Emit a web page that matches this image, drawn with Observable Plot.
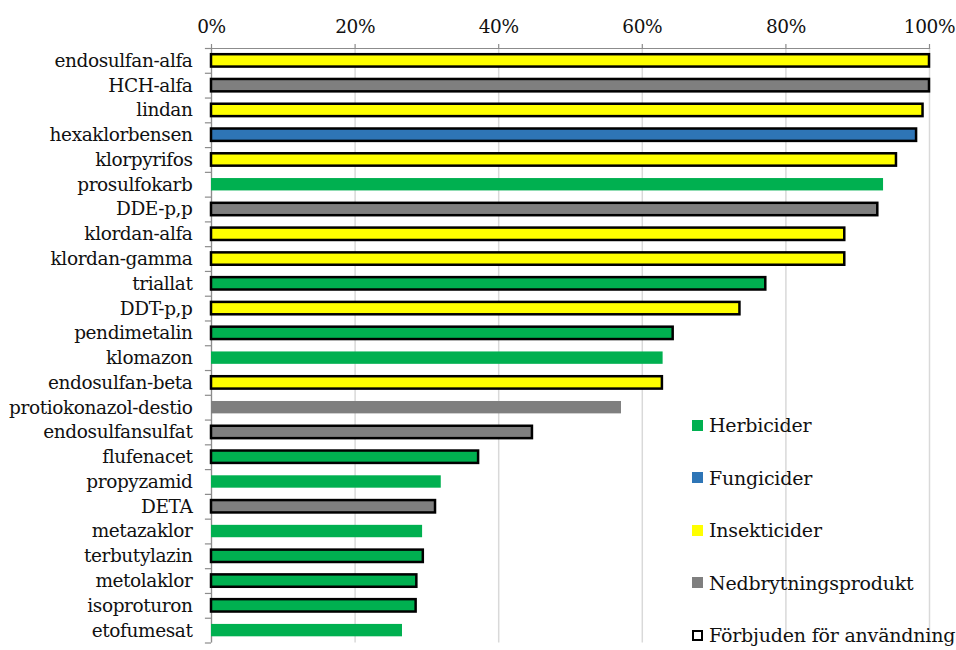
<!DOCTYPE html>
<html>
<head>
<meta charset="utf-8">
<script src="https://cdn.jsdelivr.net/npm/d3@7"></script>
<script src="https://cdn.jsdelivr.net/npm/@observablehq/plot@0.6"></script>
<style>
  body { margin: 0; background: #fff; }
  #wrap { position: relative; width: 956px; height: 650px; font-family: "DejaVu Serif", serif; }
  #legend { position: absolute; left: 692px; top: 399px; }
  .row { display: flex; align-items: center; height: 52.5px; font-size: 19px; letter-spacing: -0.2px; color: #111; white-space: nowrap; }
  .sw { width: 11px; height: 11px; margin-right: 6px; box-sizing: border-box; }
  svg text { font-family: "DejaVu Serif", serif; letter-spacing: -0.4px; }
</style>
</head>
<body>
<div id="wrap"></div>
<script>
const names = ["endosulfan-alfa","HCH-alfa","lindan","hexaklorbensen","klorpyrifos","prosulfokarb","DDE-p,p","klordan-alfa","klordan-gamma","triallat","DDT-p,p","pendimetalin","klomazon","endosulfan-beta","protiokonazol-destio","endosulfansulfat","flufenacet","propyzamid","DETA","metazaklor","terbutylazin","metolaklor","isoproturon","etofumesat"];
const values = [1.0,1.0,0.991,0.982,0.954,0.936,0.928,0.882,0.882,0.772,0.736,0.643,0.629,0.628,0.571,0.447,0.372,0.320,0.312,0.294,0.295,0.286,0.285,0.266];
const types = ["Insekticider","Nedbrytningsprodukt","Insekticider","Fungicider","Insekticider","Herbicider","Nedbrytningsprodukt","Insekticider","Insekticider","Herbicider","Insekticider","Herbicider","Herbicider","Insekticider","Nedbrytningsprodukt","Nedbrytningsprodukt","Herbicider","Herbicider","Nedbrytningsprodukt","Herbicider","Herbicider","Herbicider","Herbicider","Herbicider"];
const banned = [true,true,true,true,true,false,true,true,true,true,true,true,false,true,false,true,true,false,true,false,true,true,true,false];
const typeNames = ["Herbicider","Fungicider","Insekticider","Nedbrytningsprodukt"];
const typeColors = ["#00B050","#2E75B6","#FFFF00","#7F7F7F"];
const bannedLabel = "Förbjuden för användning";
const xTicks = [0,0.2,0.4,0.6,0.8,1.0];

const data = names.map((n,i) => ({name:n, value:values[i], type:types[i], banned:banned[i]}));

const H = 650, mTop = 48, mBottom = 7.5;
const band = (H - mTop - mBottom) / names.length;

const chart = Plot.plot({
  width: 956,
  height: H,
  marginLeft: 211,
  marginRight: 27,
  marginTop: mTop,
  marginBottom: mBottom,
  style: {fontFamily: "DejaVu Serif, serif", fontSize: "18.5px", color: "#111", background: "#fff"},
  x: {domain: [0, 1]},
  y: {domain: names, paddingInner: 0.5, paddingOuter: 0.25, round: false},
  color: {domain: typeNames, range: typeColors},
  marks: [
    Plot.gridX(xTicks, {stroke: "#d9d9d9", strokeOpacity: 1, strokeWidth: 1.5}),
    Plot.axisX(xTicks, {anchor: "top", tickFormat: d3.format(".0%"), tickSize: 5, tickPadding: 11, stroke: "#8c8c8c", strokeWidth: 1.2, label: null, fill: "#111"}),
    Plot.axisY({anchor: "left", tickSize: 0, tickPadding: 19, label: null, fill: "#111"}),
    Plot.frame({anchor: "top", stroke: "#8c8c8c", strokeWidth: 1.2}),
    Plot.ruleX([0], {stroke: "#8c8c8c", strokeWidth: 1.2}),
    Plot.ruleY(names, {y: d => d, x1: -0.0085, x2: 0, dy: -band/2, stroke: "#8c8c8c", strokeWidth: 1.2}),
    Plot.ruleY(names.slice(-1), {y: d => d, x1: -0.0085, x2: 0, dy: band/2, stroke: "#8c8c8c", strokeWidth: 1.2}),
    Plot.barX(data.filter(d => !d.banned), {x: "value", y: "name", fill: "type"}),
    Plot.barX(data.filter(d => d.banned), {x: "value", y: "name", fill: "type", stroke: "#000", strokeWidth: 2.5})
  ]
});
document.getElementById("wrap").appendChild(chart);

const legend = d3.select("#wrap").append("div").attr("id", "legend");
typeNames.forEach((t, i) => {
  const row = legend.append("div").attr("class", "row");
  row.append("div").attr("class", "sw").style("background", typeColors[i]);
  row.append("span").text(t);
});
const last = legend.append("div").attr("class", "row");
last.append("div").attr("class", "sw").style("border", "2px solid #000").style("background", "#fff");
last.append("span").text(bannedLabel);
</script>
</body>
</html>
